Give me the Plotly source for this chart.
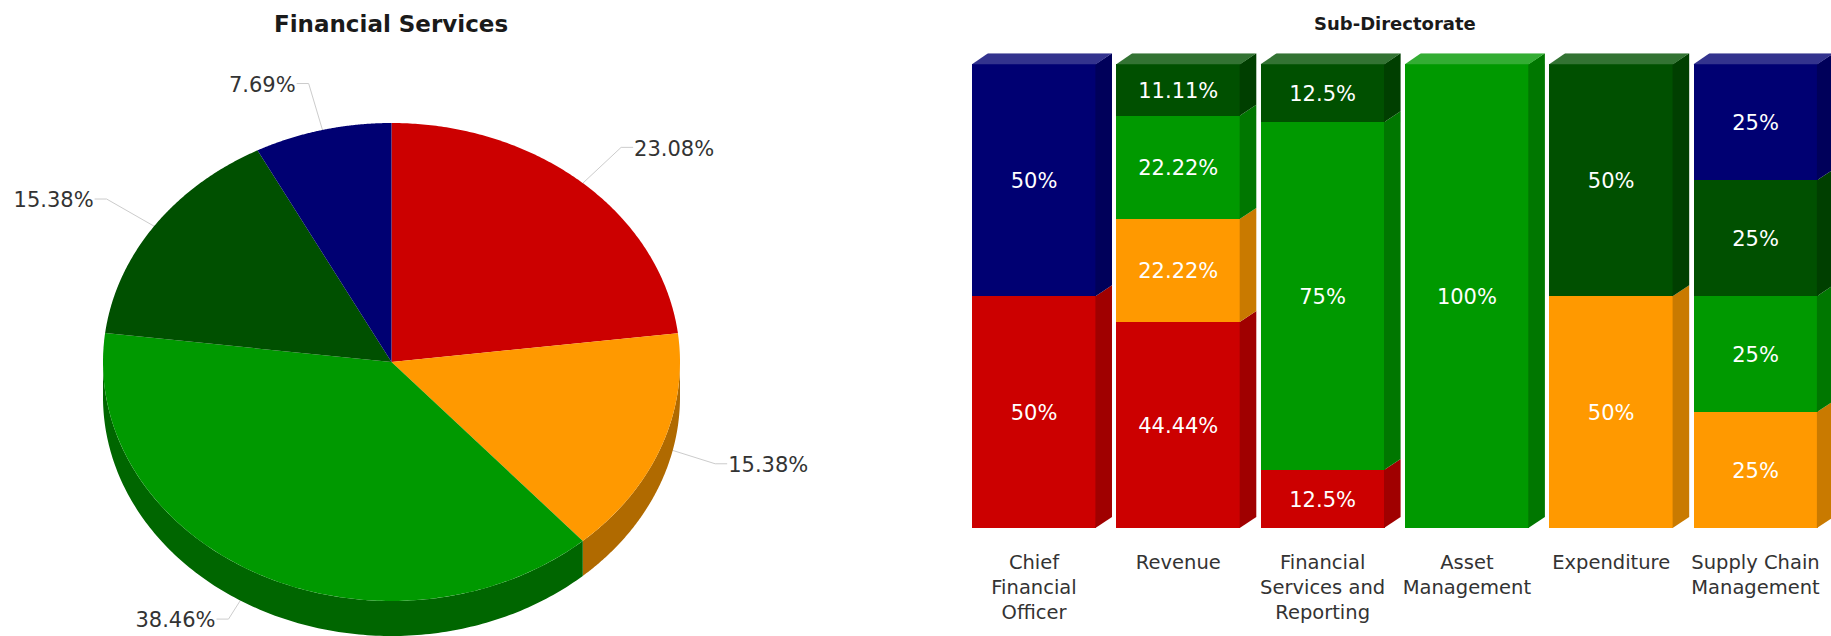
import numpy as np
import plotly.graph_objects as go

# ---------- data ----------
pie_names = ["Red", "Orange", "Green", "Dark green", "Navy"]
pie_values = [23.08, 15.38, 38.46, 15.38, 7.69]
pie_labels = ["23.08%", "15.38%", "38.46%", "15.38%", "7.69%"]

categories = ["Chief<br>Financial<br>Officer", "Revenue", "Financial<br>Services and<br>Reporting",
              "Asset<br>Management", "Expenditure", "Supply Chain<br>Management"]
red_values = [50, 44.44, 12.5, 0, 0, 0]
orange_values = [0, 22.22, 0, 0, 50, 25]
green_values = [0, 22.22, 75, 100, 0, 25]
darkgreen_values = [0, 11.11, 12.5, 0, 50, 25]
navy_values = [50, 0, 0, 0, 0, 25]

# ---------- style ----------
W, H = 1831, 636
FACE = ["#CC0000", "#FF9900", "#009900", "#005000", "#000072"]
SIDE = ["#A00000", "#C97A00", "#007700", "#003F00", "#00005A"]
TOP = ["#D63333", "#FFAD33", "#33AD33", "#337333", "#33338E"]
PIE_DEPTH_COL = ["#A00000", "#B06A00", "#006600", "#003500", "#00004C"]
FONT = "DejaVu Sans"
PIE_LABEL_COL = "#333333"
LEADER_SCALE = [1.2, 1.2, 1.215, 1.2, 1.2]

fig = go.Figure()

# ---------- pie (elliptical with extruded rim, on hidden unit axes) ----------
CX, CY, RX, RY, DEPTH = 391.5, 362, 288.5, 239, 35
depth = DEPTH / RY
fracs = np.array(pie_values) / sum(pie_values)
edges = np.concatenate([[0], np.cumsum(fracs)]) * 2 * np.pi


def arc(a0, a1, n=160):
    t = np.linspace(a0, a1, n)
    return np.sin(t), np.cos(t)


# leader lines (beneath the pie)
for i, txt in enumerate(pie_labels):
    mid = (edges[i] + edges[i + 1]) / 2
    ex, ey = np.sin(mid), np.cos(mid)
    kx, ky = ex * LEADER_SCALE[i], ey * LEADER_SCALE[i]
    sgn = 1 if ex > 0 else -1
    lx = kx + sgn * 12 / RX
    fig.add_trace(go.Scatter(x=[ex, kx, lx], y=[ey, ky, ky], mode="lines", xaxis="x", yaxis="y",
                             line=dict(color="#CCCCCC", width=1), hoverinfo="skip", showlegend=False))
    fig.add_trace(go.Scatter(x=[lx + sgn * 1 / RX], y=[ky - 3 / RY], mode="text", text=[txt], xaxis="x", yaxis="y",
                             textposition="middle right" if sgn > 0 else "middle left",
                             textfont=dict(family=FONT, size=21, color=PIE_LABEL_COL),
                             cliponaxis=False, hoverinfo="skip", showlegend=False))

# extruded rim
for i in range(len(pie_values)):
    a0, a1 = max(edges[i], np.pi / 2), min(edges[i + 1], 3 * np.pi / 2)
    if a1 <= a0:
        continue
    x, y = arc(a0, a1)
    fig.add_trace(go.Scatter(x=np.concatenate([x, x[::-1]]), y=np.concatenate([y, y[::-1] - depth]),
                             fill="toself", mode="none", fillcolor=PIE_DEPTH_COL[i], xaxis="x", yaxis="y",
                             hoverinfo="skip", showlegend=False))

# faces
for i, name in enumerate(pie_names):
    x, y = arc(edges[i], edges[i + 1])
    fig.add_trace(go.Scatter(x=np.concatenate([[0], x, [0]]), y=np.concatenate([[0], y, [0]]),
                             fill="toself", mode="none", fillcolor=FACE[i], name=name, xaxis="x", yaxis="y",
                             hoverinfo="skip", showlegend=False))

# ---------- stacked 3D columns ----------
PITCH, FRONT_W, SIDE_W, SIDE_H = 144.3, 124, 16, 11
B_LEFT, B_BOTTOM, B_TOP = 1034, 528, 64.3
x_idx = list(range(len(categories)))
bw = FRONT_W / PITCH
dx = SIDE_W / PITCH
dy = SIDE_H / (B_BOTTOM - B_TOP) * 100
overlap = 0.6 / PITCH
label_drop = 2.5 / (B_BOTTOM - B_TOP) * 100
series = [red_values, orange_values, green_values, darkgreen_values, navy_values]

for s, vals in enumerate(series):
    fig.add_trace(go.Bar(x=x_idx, y=vals, width=bw, marker=dict(color=FACE[s], line=dict(width=0)),
                         xaxis="x2", yaxis="y2", hoverinfo="skip", showlegend=False))

base = np.zeros(len(categories))
top_color = [None] * len(categories)
for s, vals in enumerate(series):
    for c, v in enumerate(vals):
        if not v:
            continue
        r = c + bw / 2
        b, t = base[c], base[c] + v
        fig.add_trace(go.Scatter(x=[r - overlap, r + dx, r + dx, r - overlap, r - overlap],
                                 y=[b, b + dy, t + dy, t, b], fill="toself",
                                 mode="none", fillcolor=SIDE[s], xaxis="x2", yaxis="y2",
                                 hoverinfo="skip", showlegend=False))
        fig.add_trace(go.Scatter(x=[c], y=[(b + t) / 2 - label_drop], mode="text", text=[f"{v:g}%"],
                                 textposition="middle center", xaxis="x2", yaxis="y2",
                                 textfont=dict(family=FONT, size=21, color="#FFFFFF"),
                                 hoverinfo="skip", showlegend=False))
        top_color[c] = TOP[s]
    base = base + np.array(vals)
for c, col in enumerate(top_color):
    l, r = c - bw / 2, c + bw / 2
    fig.add_trace(go.Scatter(x=[l, l + dx, r + dx, r, l], y=[100, 100 + dy, 100 + dy, 100, 100], fill="toself",
                             mode="none", fillcolor=col, xaxis="x2", yaxis="y2",
                             hoverinfo="skip", showlegend=False))

# ---------- layout ----------
hidden = dict(visible=False, fixedrange=True)
PIE_RIGHT = 860
BAR_LEFT = 962
fig.update_layout(
    width=W, height=H, margin=dict(l=0, r=0, t=0, b=0), autosize=False,
    paper_bgcolor="#FFFFFF", plot_bgcolor="#FFFFFF", barmode="stack", bargap=0, showlegend=False,
    xaxis=dict(domain=[0, PIE_RIGHT / W], range=[-CX / RX, (PIE_RIGHT - CX) / RX], **hidden),
    yaxis=dict(domain=[0, 1], range=[(CY - H) / RY, CY / RY], **hidden),
    xaxis2=dict(domain=[BAR_LEFT / W, 1], anchor="y2", fixedrange=True,
                range=[(BAR_LEFT - B_LEFT) / PITCH, (W - B_LEFT) / PITCH],
                tickmode="array", tickvals=x_idx, ticktext=categories, showgrid=False, zeroline=False,
                showline=False, ticks="", tickangle=0, ticklabelstandoff=20,
                tickfont=dict(family=FONT, size=19.5, color="#333333")),
    yaxis2=dict(domain=[(H - B_BOTTOM) / H, (H - B_TOP + SIDE_H) / H], anchor="x2", range=[0, 100 + dy],
                visible=False, fixedrange=True),
    annotations=[
        dict(text="<b>Financial Services</b>", x=391 / W, y=1 - 24 / H, xref="paper", yref="paper",
             showarrow=False, xanchor="center", yanchor="middle",
             font=dict(family=FONT, size=23, color="#1A1A1A")),
        dict(text="<b>Sub-Directorate</b>", x=1395 / W, y=1 - 24 / H, xref="paper", yref="paper",
             showarrow=False, xanchor="center", yanchor="middle",
             font=dict(family=FONT, size=18, color="#1A1A1A")),
    ],
)

fig.write_html("out.html", post_script="document.body.style.margin='0';document.body.style.overflow='hidden';",
               config={"displayModeBar": False})
